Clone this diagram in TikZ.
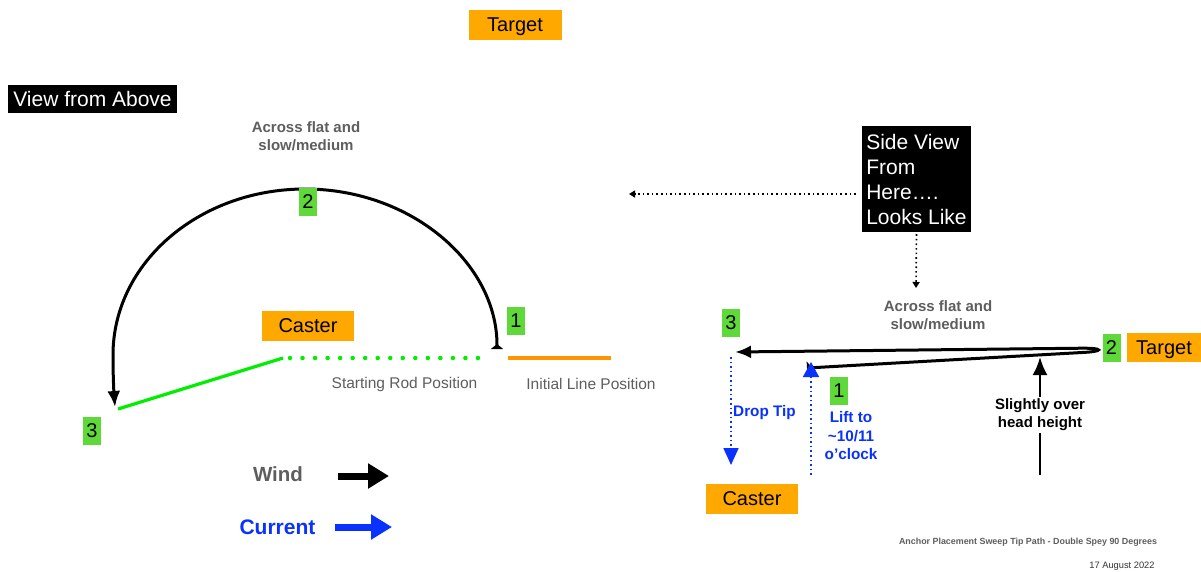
\documentclass[tikz,border=0pt]{standalone}
\usepackage{fontspec}
\setmainfont{Liberation Sans}
\usetikzlibrary{arrows.meta}
\definecolor{boxorange}{HTML}{FFA800}
\definecolor{boxgreen}{HTML}{5FD83A}
\definecolor{rodgreen}{HTML}{00EE00}
\definecolor{lineorange}{HTML}{FF9500}
\definecolor{txtgray}{HTML}{5E5E5E}
\definecolor{curblue}{HTML}{0A32FF}
\begin{document}
\begin{tikzpicture}[x=1pt,y=-1pt,
  obox/.style={fill=boxorange, inner sep=0pt, minimum height=30pt, minimum width=#1, text height=13.5pt, text depth=0pt, font=\fontsize{20pt}{24pt}\selectfont},
  gbox/.style={fill=boxgreen, inner sep=0pt, minimum width=18pt, minimum height=28pt, text height=13.5pt, text depth=0pt, font=\fontsize{20pt}{24pt}\selectfont},
  kbox/.style={fill=black, text=white, inner sep=0pt, font=\fontsize{21pt}{25pt}\selectfont},
  graytxt/.style={text=txtgray, align=center, font=\bfseries\fontsize{15pt}{18pt}\selectfont},
  thintxt/.style={text=txtgray, font=\fontsize{15.5pt}{18pt}\selectfont},
  bluetxt/.style={text=curblue, align=center, font=\bfseries\fontsize{15.3pt}{18.5pt}\selectfont},
  mainline/.style={line width=3pt, black},
  starttip/.style={Triangle[reversed,length=5pt,width=12pt]},
  endtip/.style={Latex[length=16pt,width=13pt]},
  dotblack/.style={black, line width=1.6pt, dash pattern=on 1.6pt off 3pt, -{Triangle[length=6pt,width=7pt]}},
  dotblue/.style={curblue, line width=1.6pt, dash pattern=on 1.6pt off 3pt},
]
\useasboundingbox (0,0) rectangle (1201,571);
\fill[white] (0,0) rectangle (1201,571);

% ---------- top / left view ----------
\node[obox=93pt] (targetTop) at (515,25) {Target};
\node[kbox, minimum width=169pt, minimum height=28pt] (viewAbove) at (92.5,99) {View from Above};
\node[graytxt] (acrossL) at (306,136) {Across flat and\\slow/medium};

\coordinate (arcStart) at (497,349);
\coordinate (arcEnd) at (115,407);
\draw[mainline, {Triangle[reversed,length=5pt,width=12pt]}-{Latex[length=16pt,width=13pt]}]
  (arcStart) .. controls (497,263) and (411,189) .. (305,189)
  .. controls (199,189) and (113,263) .. (113,355)
  .. controls (113,378) and (114,394) .. (arcEnd);

\node[gbox] (g2L) at (308,202) {2};
\node[gbox] (g1L) at (516,321) {1};
\node[gbox] (g3L) at (92,431) {3};
\node[obox=92pt] (casterL) at (308,326) {Caster};

\coordinate (rodTip) at (118,409);
\coordinate (rodBase) at (283,358);
\coordinate (dotStart) at (290,358);
\coordinate (dotEnd) at (478,358);
\coordinate (lineStart) at (508,358);
\coordinate (lineEnd) at (611,358);
\draw[rodgreen, line width=3.2pt] (rodTip) -- (rodBase);
\draw[rodgreen, line width=4.5pt, line cap=round, dash pattern=on 0pt off 12.53pt] (dotStart) -- (dotEnd);
\draw[lineorange, line width=3.5pt] (lineStart) -- (lineEnd);
\node[thintxt] (rodLbl) at (404.5,384) {Starting Rod Position};
\node[thintxt] (lineLbl) at (591,384) {Initial Line Position};

% legend
\node[text=txtgray, font=\bfseries\fontsize{20.5pt}{24pt}\selectfont] (wind) at (278,474) {Wind};
\node[text=curblue, font=\bfseries\fontsize{21pt}{24pt}\selectfont] (current) at (277.5,527) {Current};
\coordinate (w1) at (338,476); \coordinate (w2) at (389,476);
\coordinate (c1) at (335,527); \coordinate (c2) at (392,527);
\draw[black, line width=7pt, -{Triangle[length=21pt,width=24pt]}] (w1) -- (w2);
\draw[curblue, line width=7pt, -{Triangle[length=21pt,width=24pt]}] (c1) -- (c2);

% ---------- side view ----------
\node[kbox, minimum width=109pt, minimum height=106pt, align=left] (sideView) at (916.5,179)
  {Side View\\From\\Here….\\Looks Like};
\coordinate (dotLeftEnd) at (629,194);
\coordinate (dotDownEnd) at (916,288);
\draw[dotblack] (sideView.west |- 0,194) ++(-6,0) -- (dotLeftEnd);
\draw[dotblack] (sideView.south) ++(0,2) -- (dotDownEnd);

\node[graytxt] (acrossR) at (938,315) {Across flat and\\slow/medium};
\node[gbox] (g3R) at (731,322.5) {3};
\node[gbox] (g2R) at (1111.5,347.5) {2};
\node[obox=74pt, minimum height=29pt] (targetR) at (1164,347.5) {Target};

\coordinate (loopStart) at (807,368);
\coordinate (loopEnd) at (735,352);
\draw[mainline, {Triangle[reversed,length=5pt,width=13pt]}-{Latex[length=16pt,width=13pt]}]
  (loopStart) -- (1082,352.5) .. controls (1104,351.5) and (1104,348) .. (1082,348.2) -- (loopEnd);

\node[font=\bfseries\fontsize{15pt}{18pt}\selectfont, align=center, fill=white, inner sep=2pt] (headLbl) at (1040,415)
  {Slightly over\\head height};
\coordinate (headBase) at (1040,475);
\coordinate (headTip) at (1040,357);
\draw[black, line width=2.5pt] (headBase) -- (headLbl.south);
\draw[black, line width=2.5pt, -{Latex[length=18pt,width=15pt]}] (headLbl.north) -- (headTip);

\coordinate (dropTop) at (731,357);
\coordinate (dropEnd) at (731,465);
\draw[dotblue, -{Triangle[length=17pt,width=15pt]}] (dropTop) -- (dropEnd);
\node[bluetxt, anchor=west, inner sep=0pt] (dropLbl) at (733,413) {Drop Tip};

\coordinate (liftBase) at (811,475);
\coordinate (liftTip) at (811,362);
\draw[dotblue, -{Triangle[length=15pt,width=16pt]}] (liftBase) -- (liftTip);
\node[gbox] (g1R) at (839,391) {1};
\node[bluetxt] (liftLbl) at (851,436) {Lift to\\\textasciitilde10/11\\o’clock};

\node[obox=92pt] (casterR) at (752,499) {Caster};

% footer
\node[text=txtgray, font=\bfseries\fontsize{8.9pt}{10pt}\selectfont] (title) at (1028,542)
  {Anchor Placement Sweep Tip Path - Double Spey 90 Degrees};
\node[text=black!80, font=\fontsize{9.3pt}{10pt}\selectfont] (date) at (1122,566)
  {17 August 2022};
\end{tikzpicture}
\end{document}
